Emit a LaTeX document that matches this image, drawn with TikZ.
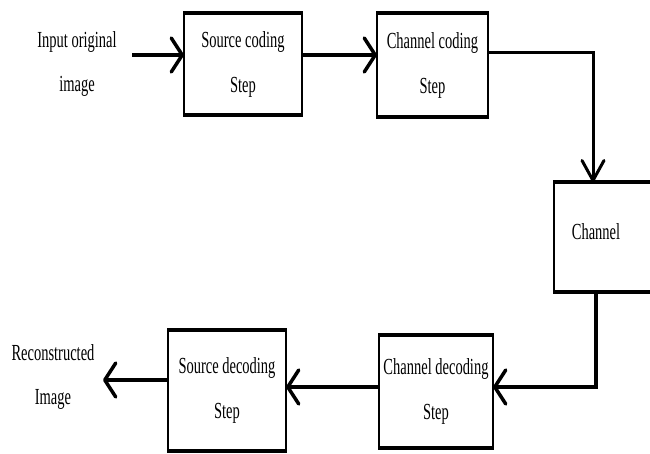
\documentclass[tikz,border=0pt]{standalone}
\usepackage{fontspec}
\newfontfamily\condfont[FakeStretch=0.63]{Liberation Serif}
\usetikzlibrary{arrows.meta}
\begin{document}
\begin{tikzpicture}[x=1pt,y=-1pt,
  stepbox/.style={draw, line width=2pt, outer sep=0pt, inner sep=0pt, align=center,
    font=\condfont\fontsize{23}{45}\selectfont},
  lbl/.style={align=center, inner sep=0pt, font=\condfont\fontsize{23}{44}\selectfont},
  flow/.style={line width=3.5pt, -{Straight Barb[length=11pt,width=34pt,round]}},
  downflow/.style={line width=3pt, -{Straight Barb[length=20pt,width=22pt,round]}},
  edge/.style={line width=4pt, shorten <=-1pt, shorten >=-1pt}
]
\path[use as bounding box, clip] (0,0) rectangle (650,454);

% boxes
\node[stepbox, minimum width=118pt, minimum height=102pt] (sc) at (243,64) {Source coding\\Step};
\node[stepbox, minimum width=111pt, minimum height=104pt] (cc) at (432.5,65) {Channel coding\\Step};
\node[stepbox, minimum width=116pt, minimum height=110pt] (ch) at (612,237) {};
\node[lbl, anchor=base] (chtxt) at (596,240) {Channel};
\node[stepbox, minimum width=114pt, minimum height=113pt] (cd) at (436,391.5) {Channel decoding\\Step};
\node[stepbox, minimum width=118pt, minimum height=121pt] (sd) at (227,390.5) {Source decoding\\Step};

\foreach \n in {sc,cc,ch,cd,sd}{
  \draw[edge] (\n.north west) -- (\n.north east);
  \draw[edge] (\n.south west) -- (\n.south east);
}

% labels
\node[lbl] (inlbl) at (77,64.5) {Input original\\image};
\node[lbl] (outlbl) at (53,377) {Reconstructed\\Image};

% connector anchors
\coordinate (inpt) at (132,55);
\coordinate (k1) at (593,53);
\coordinate (k2) at (596,387);
\coordinate (outpt) at (103,380);

% connectors
\draw[flow] (inpt) -- (inpt -| sc.west);
\draw[flow] (inpt -| sc.east) -- (inpt -| cc.west);
\draw[downflow] (k1 -| cc.east) -- (k1) -- (k1 |- ch.north);
\draw[flow] (k2 |- ch.south) -- (k2) -- (k2 -| cd.east);
\draw[flow] (k2 -| cd.west) -- (k2 -| sd.east);
\draw[flow] (outpt -| sd.west) -- (outpt);
\end{tikzpicture}
\end{document}
